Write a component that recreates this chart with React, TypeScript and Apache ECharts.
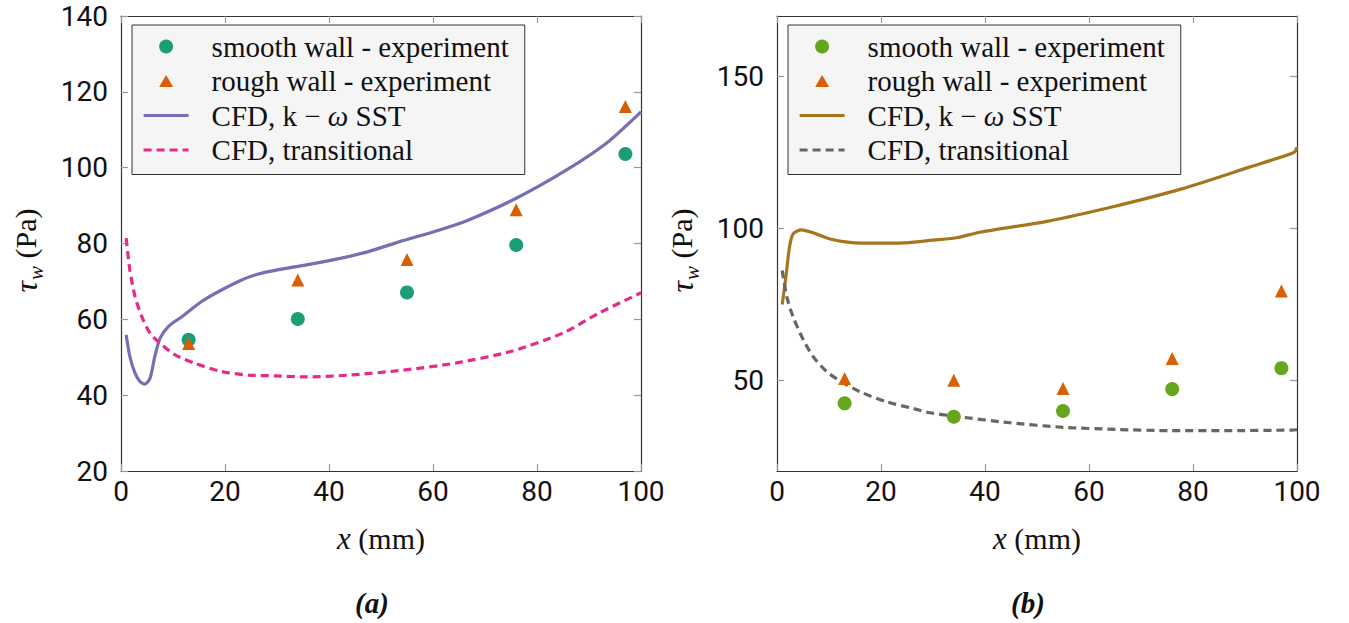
import React, { useEffect, useRef } from "react";
import * as echarts from "echarts";

// ---------- data ----------
const xExp = [13, 34, 55, 76, 97];

// panel (a)
const aSmooth = [54.6, 60.1, 67.1, 79.6, 103.6];
const aRough = [53.6, 70.4, 75.8, 88.9, 116.1];
const aSstX = [1, 1.7, 2.7, 3.65, 4.6, 5.6, 6.5, 7.5, 9.1, 11.7, 15.5, 19.4, 23.2, 27.1, 33.7, 40.5, 47.4, 53.6, 61.1, 66.5, 76.1, 85.7, 93.4, 100];
const aSstY = [55.9, 50.2, 45.8, 43.6, 42.9, 44.5, 50.2, 55, 58.1, 60.7, 64.7, 67.8, 70.4, 72.2, 73.9, 75.6, 77.8, 80.5, 83.5, 86, 92, 99.4, 106.5, 114.7];
const aTrX = [1, 1.7, 2.7, 4, 5.6, 7.5, 10.4, 14.2, 19.4, 24.5, 29.6, 35.6, 44, 54.3, 64.5, 74.9, 85, 92, 100];
const aTrY = [81.4, 73, 66, 60.7, 56.3, 53.7, 50.6, 48.4, 46.2, 45.3, 45.1, 44.8, 45.3, 46.6, 48.5, 51.5, 56.4, 61.7, 67];

// panel (b)
const bSmooth = [42.3, 37.9, 39.8, 47, 53.9];
const bRough = [50.5, 49.9, 47.2, 57.1, 79.3];
const bSstX = [1, 1.7, 2.4, 3.1, 4.7, 7, 10.2, 14, 19.1, 24.3, 29.4, 34.5, 39, 51.9, 64.8, 77.8, 90.7, 99.4, 100];
const bSstY = [74.9, 83.9, 93.8, 98.2, 99.5, 98.5, 96.5, 95.4, 95.1, 95.2, 96, 96.9, 98.7, 102.3, 107.2, 113, 120.1, 125, 126.7];
const bTrX = [1, 1.9, 3.1, 5.1, 7, 9.6, 12.4, 16, 21.1, 26.2, 29.4, 34, 44.8, 55.1, 65.4, 75.7, 86, 99, 100];
const bTrY = [86.1, 77.3, 70.8, 63.1, 57.6, 52.7, 49.4, 46.1, 42.8, 40.6, 39.2, 38.1, 35.9, 34.4, 33.7, 33.3, 33.3, 33.5, 33.6];

const xTicks = { min: 0, max: 100, interval: 20 };
const aYTicks = { min: 20, max: 140, interval: 20 };
const bYRange = { min: 20, max: 170 };
const bYTickValues = [50, 100, 150];

const legendNames = [
  "smooth wall - experiment",
  "rough wall - experiment",
  "CFD, k \u2212 \u03c9 SST",
  "CFD, transitional",
];
// rich-text versions of the legend labels (ω in italic)
const legendRich = [
  "smooth wall - experiment",
  "rough wall - experiment",
  "CFD, k \u2212 {i|\u03c9} SST",
  "CFD, transitional",
];
const panelTitles = ["(a)", "(b)"];

const colorsA = { smooth: "#1b9e77", rough: "#d95f02", sst: "#7570b3", tr: "#e7298a" };
const colorsB = { smooth: "#66a61e", rough: "#d95f02", sst: "#a6761d", tr: "#666666" };

// ---------- styling ----------
const SERIF = '"Liberation Serif", "DejaVu Serif", serif';
const SANS = 'Roboto, "Liberation Sans", sans-serif';
const GRID_LEFT = [121, 777];
const GRID_TOP = 16;
const GRID_W = 520;
const GRID_H = 455;
const TRI_ICON = "path://M0,0M45,14M22.5,1L29.5,13L15.5,13Z";
const LINE_W = 3.2;

const zip = (xs: number[], ys: number[]) => xs.map((x, i) => [x, ys[i]]);

function makeAxes(g: number, yCfg: any) {
  const lineStyle = { color: "#333", width: 1.2 };
  const tick = { show: true, inside: true, length: 7, lineStyle: { color: "#999", width: 1.2 } };
  const xBottom = {
    type: "value",
    gridIndex: g,
    position: "bottom",
    ...xTicks,
    axisLine: { show: true, onZero: false, lineStyle },
    axisTick: tick,
    splitLine: { show: false },
    axisLabel: { fontFamily: SANS, fontSize: 28, color: "#111", margin: 6 },
    name: "{i|x} (mm)",
    nameLocation: "middle",
    nameGap: 52,
    nameTextStyle: {
      fontFamily: SERIF,
      fontSize: 30,
      color: "#111",
      rich: { i: { fontFamily: SERIF, fontSize: 31, fontStyle: "italic", color: "#111" } },
    },
  };
  const xTop = {
    type: "value",
    gridIndex: g,
    position: "top",
    ...xTicks,
    axisLine: { show: true, onZero: false, lineStyle },
    axisTick: tick,
    splitLine: { show: false },
    axisLabel: { show: false },
  };
  const yLeft: any = {
    type: "value",
    gridIndex: g,
    position: "left",
    ...yCfg.range,
    axisLine: { show: true, onZero: false, lineStyle },
    axisTick: { ...tick },
    splitLine: { show: false },
    axisLabel: { fontFamily: SANS, fontSize: 28, color: "#111", margin: 13 },
    name: "{t|\u03c4}{s|w}{n| (Pa)}",
    nameLocation: "middle",
    nameRotate: 90,
    nameGap: 79,
    nameTextStyle: {
      fontFamily: SERIF,
      fontSize: 30,
      color: "#111",
      padding: [0, 14, 0, 0],
      rich: {
        t: { fontFamily: SERIF, fontSize: 32, fontStyle: "italic", color: "#111", verticalAlign: "top", lineHeight: 32 },
        s: { fontFamily: SERIF, fontSize: 21, fontStyle: "italic", color: "#111", verticalAlign: "top", lineHeight: 21, padding: [15, 0, 0, 1] },
        n: { fontFamily: SERIF, fontSize: 30, color: "#111", verticalAlign: "top", lineHeight: 32 },
      },
    },
  };
  const yRight: any = {
    type: "value",
    gridIndex: g,
    position: "right",
    ...yCfg.range,
    axisLine: { show: true, onZero: false, lineStyle },
    axisTick: { ...tick },
    splitLine: { show: false },
    axisLabel: { show: false },
  };
  if (yCfg.custom) {
    yLeft.axisLabel.customValues = yCfg.custom;
    yLeft.axisTick.customValues = yCfg.custom;
    yRight.axisTick.customValues = yCfg.custom;
  }
  return { x: [xBottom, xTop], y: [yLeft, yRight] };
}

function makeSeries(prefix: string, xi: number, yi: number, c: any, smooth: number[], rough: number[], sst: number[][], tr: number[][]) {
  return [
    {
      name: prefix + legendNames[2],
      type: "line",
      xAxisIndex: xi,
      yAxisIndex: yi,
      data: sst,
      showSymbol: false,
      symbol: "none",
      smooth: 0.25,
      lineStyle: { color: c.sst, width: LINE_W },
      itemStyle: { color: c.sst },
      z: 2,
    },
    {
      name: prefix + legendNames[3],
      type: "line",
      xAxisIndex: xi,
      yAxisIndex: yi,
      data: tr,
      showSymbol: false,
      symbol: "none",
      smooth: 0.25,
      lineStyle: { color: c.tr, width: LINE_W, type: [8, 5] },
      itemStyle: { color: c.tr },
      z: 2,
    },
    {
      name: prefix + legendNames[0],
      type: "scatter",
      xAxisIndex: xi,
      yAxisIndex: yi,
      data: zip(xExp, smooth),
      symbol: "circle",
      symbolSize: 14,
      itemStyle: { color: c.smooth, opacity: 1 },
      z: 3,
    },
    {
      name: prefix + legendNames[1],
      type: "scatter",
      xAxisIndex: xi,
      yAxisIndex: yi,
      data: zip(xExp, rough),
      symbol: "triangle",
      symbolSize: 13,
      itemStyle: { color: c.rough, opacity: 1 },
      z: 4,
    },
  ];
}

function makeLegend(prefix: string, left: number) {
  return {
    orient: "vertical",
    left,
    top: 25,
    selectedMode: false,
    symbolKeepAspect: true,
    data: [
      { name: prefix + legendNames[0], icon: "circle" },
      { name: prefix + legendNames[1], icon: TRI_ICON },
      { name: prefix + legendNames[2], itemStyle: { opacity: 0 } },
      { name: prefix + legendNames[3], itemStyle: { opacity: 0 } },
    ],
    formatter: (n: string) => legendRich[legendNames.indexOf(n.slice(2))],
    itemWidth: 45,
    itemHeight: 14,
    itemGap: 5.5,
    padding: [7, 16, 10, 10],
    backgroundColor: "#f5f5f5",
    borderColor: "#333",
    borderWidth: 1,
    borderRadius: 0,
    lineStyle: { width: LINE_W },
    textStyle: {
      fontFamily: SERIF,
      fontSize: 29,
      color: "#111",
      lineHeight: 28,
      padding: [0, 0, 0, 18],
      rich: { i: { fontFamily: SERIF, fontSize: 29, fontStyle: "italic", color: "#111", lineHeight: 28 } },
    },
  };
}

export default function App() {
  const ref = useRef<HTMLDivElement>(null);
  useEffect(() => {
    if (!ref.current) return;
    const chart = echarts.init(ref.current, undefined, { renderer: "svg" });
    const axA = makeAxes(0, { range: aYTicks });
    const axB = makeAxes(1, { range: bYRange, custom: bYTickValues });
    const option: any = {
      animation: false,
      backgroundColor: "#ffffff",
      grid: GRID_LEFT.map((l) => ({ left: l, top: GRID_TOP, width: GRID_W, height: GRID_H, containLabel: false })),
      xAxis: [...axA.x, ...axB.x],
      yAxis: [...axA.y, ...axB.y],
      legend: [makeLegend("a:", 132), makeLegend("b:", 788)],
      series: [
        ...makeSeries("a:", 0, 0, colorsA, aSmooth, aRough, zip(aSstX, aSstY), zip(aTrX, aTrY)),
        ...makeSeries("b:", 2, 2, colorsB, bSmooth, bRough, zip(bSstX, bSstY), zip(bTrX, bTrY)),
      ],
      graphic: panelTitles.map((t, i) => ({
        type: "text",
        x: GRID_LEFT[i] + GRID_W / 2 - 9,
        y: 603,
        style: {
          text: t,
          fontFamily: SERIF,
          fontSize: 29,
          fontWeight: "bold",
          fontStyle: "italic",
          fill: "#111",
          align: "center",
          verticalAlign: "middle",
        },
      })),
    };
    chart.setOption(option);
    return () => chart.dispose();
  }, []);
  return (
    <div
      ref={ref}
      style={{ position: "fixed", left: 0, top: 0, width: 1349, height: 623, background: "#fff" }}
    />
  );
}
